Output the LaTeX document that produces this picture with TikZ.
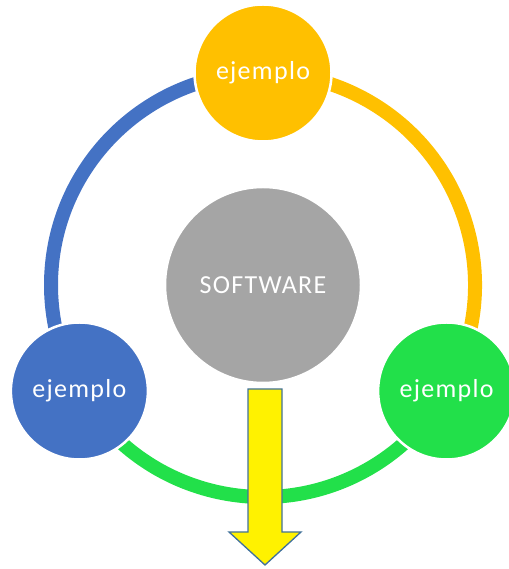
\documentclass[tikz,border=0pt]{standalone}
\usepackage{fontspec}
\setmainfont{Carlito}
\usetikzlibrary{calc}
\definecolor{ringblue}{HTML}{4472C4}
\definecolor{ringorange}{HTML}{FFC000}
\definecolor{ringgreen}{HTML}{22E04A}
\definecolor{hubgray}{HTML}{A5A5A5}
\definecolor{arrowedge}{HTML}{41719C}
\tikzset{
	bubble/.style={circle, draw=white, line width=2.5pt, minimum size=137pt, inner sep=0pt,
		text=white, font=\fontsize{26}{29}\selectfont\addfontfeature{LetterSpace=5}},
	ring/.style={line width=14pt},
}

\begin{document}
\begin{tikzpicture}[x=1pt, y=1pt]
		%%%%% START %%%%%
		\useasboundingbox (0, 0) rectangle (508, 569);
		
		\coordinate (hub) at (263, 284);
		
		% ring pieces
		\draw[ring, color=ringblue] ($(hub)+(90:212)$) arc (90:210:212);
		\draw[ring, color=ringorange] ($(hub)+(-30:212)$) arc (-30:90:212);
		\draw[ring, color=ringgreen] ($(hub)+(210:212)$) arc (210:330:212);
		
		\node[bubble, fill=hubgray, minimum size=196pt] (software) at (hub) {SOFTWARE};
		\node[bubble, fill=ringorange] (top) at ($(hub)+(90:212)$) {ejemplo};
		\node[bubble, fill=ringblue] (left) at ($(hub)+(210:212)$) {ejemplo};
		\node[bubble, fill=ringgreen] (right) at ($(hub)+(330:212)$) {ejemplo};
		
		% block arrow
		\draw[line width=1.3pt, draw=arrowedge, fill=yellow, line join=miter]
			(248, 180) -- (282, 180) -- (282, 37) -- (301, 37) -- (265, 4)
			-- (229, 37) -- (248, 37) -- cycle;
		
		%%%%% END %%%%%
	\end{tikzpicture}
\end{document}
